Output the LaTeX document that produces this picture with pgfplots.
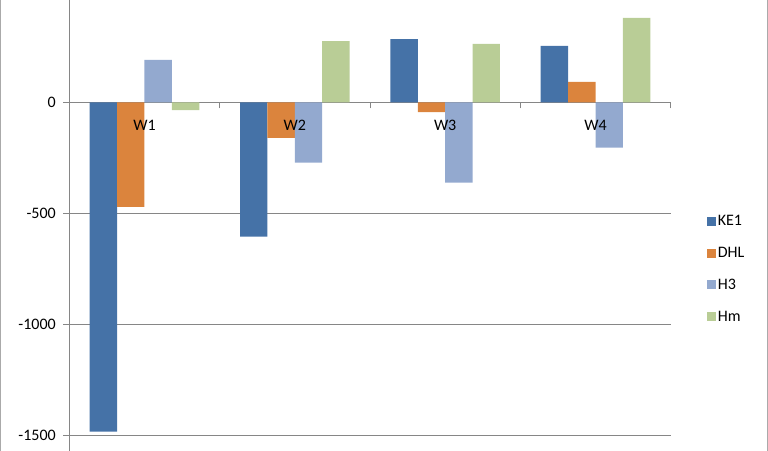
\documentclass[border=0pt]{standalone}
\usepackage{pgfplots}
\pgfplotsset{compat=1.18}
\usepackage{fontspec}
\setmainfont{Carlito}
\definecolor{cKE}{RGB}{69,114,167}
\definecolor{cDHL}{RGB}{219,132,61}
\definecolor{cHthree}{RGB}{147,169,207}
\definecolor{cHm}{RGB}{185,205,150}
\definecolor{axgray}{RGB}{134,134,134}
\begin{document}
\begin{tikzpicture}
\useasboundingbox (0,0) rectangle (768bp,451bp);
\draw[axgray!70, line width=1bp] (0.5bp,0) -- (0.5bp,451bp);
\draw[axgray!70, line width=1bp] (767bp,0) -- (767bp,451bp);
\begin{axis}[
  at={(69.3bp,0bp)}, anchor=south west,
  scale only axis, width=601.4bp, height=451bp,
  xmin=0.5, xmax=4.5, ymin=-1572, ymax=461,
  axis x line=middle, axis y line=left,
  x axis line style={-, draw=axgray, line width=0.8bp},
  y axis line style={-, draw=axgray, line width=0.8bp},
  font=\fontsize{16bp}{19bp}\selectfont,
  /pgf/number format/assume math mode=true,
  xtick={1.5,2.5,3.5,4.5}, xticklabels={},
  major x tick style={draw=axgray, line width=0.8bp},
  ytick={-1500,-1000,-500,0},
  yticklabels={-1500,-1000,-500,0},
  ymajorgrids, grid style={axgray, line width=0.8bp},
  major y tick style={draw=axgray, line width=0.8bp},
  tick align=outside, major tick length=6bp,
  yticklabel style={xshift=-4bp},
  ybar=0pt, bar width=27.4bp,
  legend style={at={(1.0598,0.527)}, anchor=north west, draw=none, fill=none,
    inner sep=0pt, row sep=16bp, font=\fontsize{16bp}{19bp}\selectfont},
  legend cell align=left,
]
\addplot[fill=cKE, draw=none, legend image code/.code={\fill[cKE] (0bp,-4.5bp) rectangle (9bp,4.5bp);}]
  coordinates {(1,-1485) (2,-606) (3,285) (4,254)};
\addplot[fill=cDHL, draw=none, legend image code/.code={\fill[cDHL] (0bp,-4.5bp) rectangle (9bp,4.5bp);}]
  coordinates {(1,-471) (2,-160) (3,-44) (4,92)};
\addplot[fill=cHthree, draw=none, legend image code/.code={\fill[cHthree] (0bp,-4.5bp) rectangle (9bp,4.5bp);}]
  coordinates {(1,191) (2,-272) (3,-362) (4,-205)};
\addplot[fill=cHm, draw=none, legend image code/.code={\fill[cHm] (0bp,-4.5bp) rectangle (9bp,4.5bp);}]
  coordinates {(1,-35) (2,276) (3,263) (4,380)};
\legend{KE1,DHL,H3,Hm}
\node[anchor=center, yshift=-22.7bp, inner sep=0pt] at (axis cs:1,0) {W1};
\node[anchor=center, yshift=-22.7bp, inner sep=0pt] at (axis cs:2,0) {W2};
\node[anchor=center, yshift=-22.7bp, inner sep=0pt] at (axis cs:3,0) {W3};
\node[anchor=center, yshift=-22.7bp, inner sep=0pt] at (axis cs:4,0) {W4};
\end{axis}
\end{tikzpicture}
\end{document}
